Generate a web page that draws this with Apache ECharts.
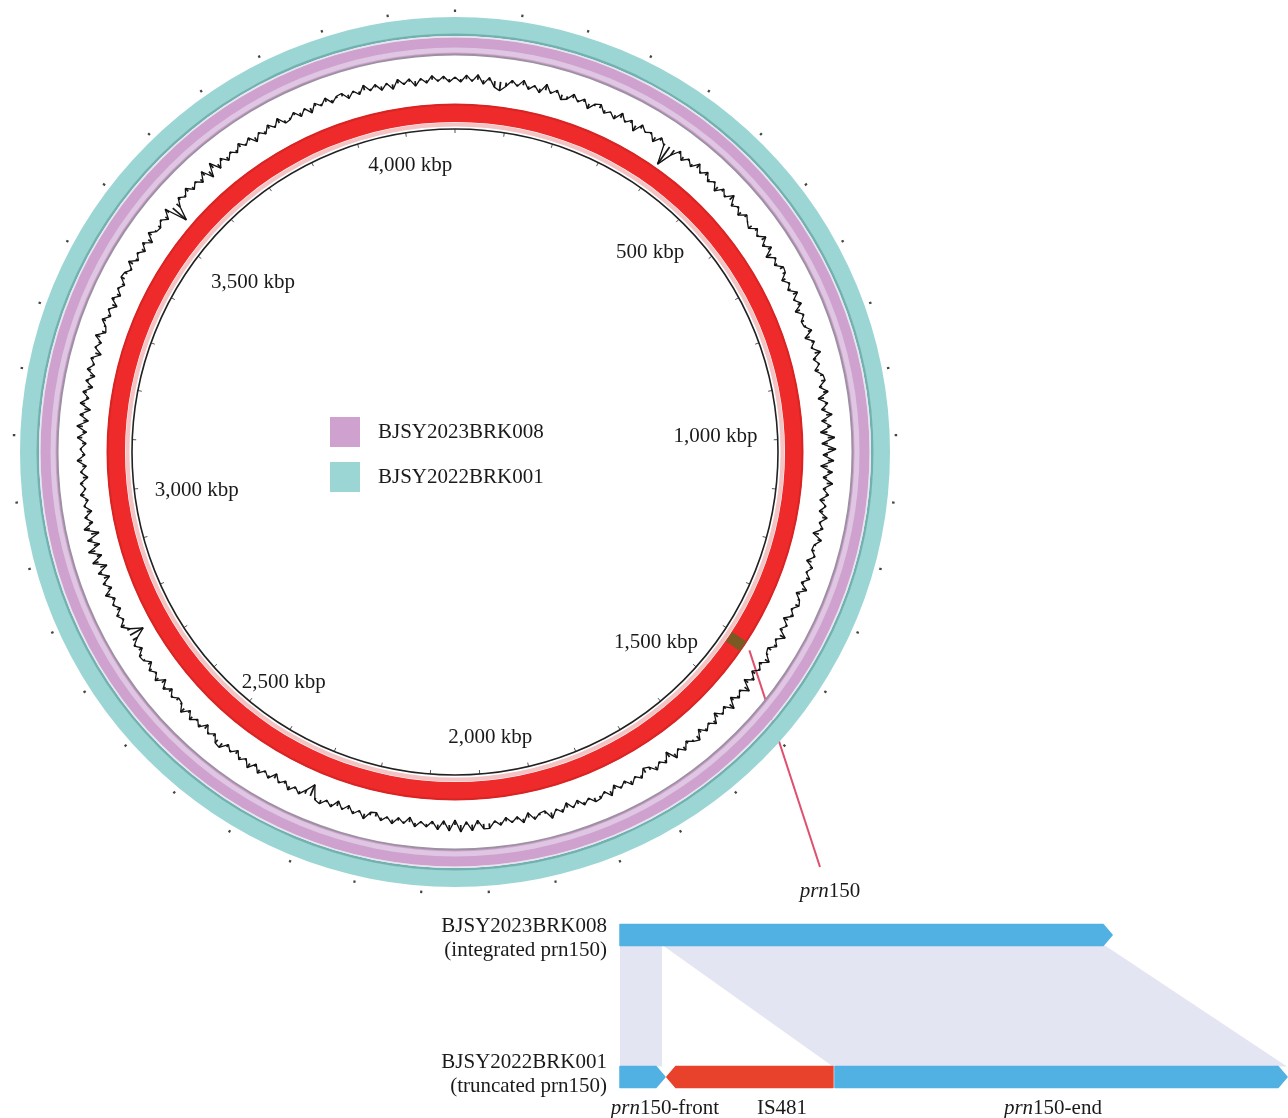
<!DOCTYPE html>
<html><head><meta charset="utf-8">
<script src="https://cdn.jsdelivr.net/npm/echarts@6/dist/echarts.min.js"></script>
<style>html,body{margin:0;padding:0;background:#fff}#c{width:1288px;height:1118px}</style>
</head><body><div id="c"></div>
<script>
// ---------------- data ----------------
const genomeLength = 4100; // kbp
const scaleLabels = [500, 1000, 1500, 2000, 2500, 3000, 3500, 4000];
const strainNames = ['BJSY2023BRK008', 'BJSY2022BRK001'];
const strainColors = ['#cfa1cf', '#9bd6d5'];
const prn150Pos = 1412; // kbp
const prn150Half = 11;
const gcStep = 10; // kbp between samples
// deviation of the GC plot from its baseline (px), one value per 10 kbp
const gcDeviation = [
  2,-3,4,-2,5,-4,3,-6,-9,-4,
  3,-2,5,-3,2,-4,6,-2,3,-5,
  -3,4,-2,3,-5,2,4,-3,1,-4,
  5,-2,3,-6,4,-1,2,-5,3,-2,
  -21,-6,3,-4,2,-3,5,-2,4,-3,
  2,-5,3,-2,6,-3,2,-4,3,-1,
  -4,3,-2,5,-3,4,-6,2,-3,4,
  3,-4,2,-3,5,-2,4,-5,2,-3,
  -2,4,-5,3,-2,6,-3,2,-4,3,
  4,-3,5,-6,3,-4,6,-5,4,-7,
  7,-6,8,-5,6,-7,5,-4,6,-3,
  3,-5,2,-4,5,-2,3,-6,4,-2,
  -3,2,-5,3,-2,4,-3,5,-4,2,
  4,-2,3,-5,2,-3,6,-2,3,-4,
  -2,5,-3,2,-4,3,-5,6,-2,3,
  -4,6,-3,2,-5,4,-2,3,-4,5,
  2,-3,4,-2,5,-6,3,-2,4,-3,
  -5,3,-2,4,-3,2,-4,5,-2,3,
  4,-2,3,-4,2,-5,3,-2,6,-3,
  -2,3,-5,4,-3,2,-4,3,-2,5,
  5,-4,6,-3,7,-5,6,-4,5,-3,
  3,-2,4,-5,2,-3,4,-2,3,-4,
  -3,5,-2,3,-4,2,-5,3,-2,4,
  2,-12,-4,3,-2,4,-3,2,-5,3,
  -2,4,-3,5,-2,3,-4,2,-3,5,
  4,-3,2,-5,3,-2,4,-3,5,-2,
  -3,2,-4,3,-5,4,-2,3,-4,2,
  3,-4,2,-5,-15,-3,4,-2,3,-4,
  2,-3,5,-4,3,-6,4,-7,6,-5,
  7,-6,5,-8,6,-4,3,-5,2,-3,
  4,-2,3,-5,2,-4,5,-3,2,-4,
  5,-4,6,-5,4,-6,5,-3,4,-5,
  3,-5,4,-2,3,-6,2,-3,5,-4,
  -2,4,-3,2,-5,3,-4,2,-3,4,
  3,-2,5,-3,2,-4,3,-5,4,-2,
  -3,2,-4,5,-18,-5,3,-2,4,-3,
  2,-4,5,-7,6,-5,3,-4,2,-3,
  4,-2,3,-5,2,-3,4,-2,5,-3,
  -2,3,-4,2,-5,3,-2,4,-3,2,
  3,-4,2,-3,5,-2,3,-4,2,-5,
  4,-2,3,-5,2,-3,4,-2,3,-3
];
// lower panel (bp)
const trackNames = [['BJSY2022BRK001', '(truncated prn150)'], ['BJSY2023BRK008', '(integrated prn150)']];
const geneNames = ['prn150', 'prn150-front', 'IS481', 'prn150-end'];
const geneStart = [0, 0, 297, 1363];
const geneEnd = [3120, 285, 1350, 4229];
const geneTrack = [1, 0, 0, 0];
const geneStrand = [1, 1, -1, 1];
const geneLabelAt = [null, 285, 1027, 2745];
const linkTop = [[0, 266], [272, 3075]];
const linkBottom = [[0, 266], [1350, 4229]];
const diagramMax = 4229;

// ---------------- layout / style ----------------
const chart = echarts.init(document.getElementById('c'));
const CX = 455, CY = 452;
const serif = 'Liberation Serif';
const FS = 21;
const geneColor = ['#50b1e2', '#50b1e2', '#e8422c', '#50b1e2'];
// label placement (radius px, angular nudge kbp) per scale label
const labelLayout = [[279, 5], [261, -13], [277, 20], [288, -30], [287, -33], [261, -21], [264, 31], [290, -1]];
const GC_BASE = 373;

function ring(r0, r1, color, name) {
  return {
    type: 'pie', center: [CX, CY], radius: [r0, r1], silent: true, startAngle: 90,
    label: {show: false}, labelLine: {show: false}, emphasis: {disabled: true},
    itemStyle: {borderWidth: 0},
    data: [{value: 1, name: name || ('_' + r0), itemStyle: {color: color}}]
  };
}

const gcData = gcDeviation.map((v, i) => [GC_BASE + v, i * gcStep]);
gcData.push([GC_BASE + gcDeviation[0], genomeLength]);

const labelData = scaleLabels.map((k, i) => ({
  value: [labelLayout[i][0], k + labelLayout[i][1]],
  name: k.toLocaleString('en-US') + ' kbp'
}));

const geneData = geneNames.map((n, i) => ({
  value: [geneStart[i], geneEnd[i], geneTrack[i], geneStrand[i]],
  itemStyle: {color: geneColor[i]}
}));
const linkData = linkTop.map((t, i) => [t[0], t[1], linkBottom[i][0], linkBottom[i][1]]);
const barH = 21, headL = 9;

const series = [
  ring(418, 435, strainColors[1], strainNames[1]),
  ring(416, 418.5, '#72b1b0'),
  ring(414.5, 416, '#e6e6ee'),
  ring(398, 414.5, strainColors[0], strainNames[0]),
  ring(399.5, 404.5, '#dfc6e2'),
  ring(396.5, 398.5, '#9d90a2'),
  ring(330, 348, '#ee2a2a'),
  ring(346.5, 348.5, '#d92424'),
  ring(325.5, 329.5, '#f4c4c4'),
  {
    type: 'custom', coordinateSystem: 'polar', polarIndex: 1, data: gcData, silent: true,
    renderItem(params, api) {
      const a = api.value(1), r = api.value(0);
      const p1 = api.coord([GC_BASE, a]);
      const p2 = api.coord([r, a]);
      return {type: 'line', shape: {x1: p1[0], y1: p1[1], x2: p2[0], y2: p2[1]}, style: {stroke: '#1a1a1a', lineWidth: 1.8}};
    }
  },
  {
    type: 'line', coordinateSystem: 'polar', polarIndex: 1, data: gcData,
    symbol: 'none', smooth: false, silent: true,
    lineStyle: {color: '#111', width: 1.3}
  },
  {
    type: 'line', coordinateSystem: 'polar', polarIndex: 1,
    data: [[339, prn150Pos - prn150Half], [339, prn150Pos + prn150Half]],
    symbol: 'none', silent: true, lineStyle: {color: '#7a5a22', width: 17, cap: 'butt'}
  },
  {
    type: 'scatter', coordinateSystem: 'polar', polarIndex: 0, data: labelData,
    symbolSize: 1, itemStyle: {color: '#fff', opacity: 1}, silent: true,
    label: {show: true, position: 'inside', formatter: '{b}', fontFamily: serif, fontSize: FS, color: '#1a1a1a', opacity: 1}
  },
  {
    type: 'custom', coordinateSystem: 'cartesian2d', data: linkData, silent: true,
    renderItem(params, api) {
      const yT = api.coord([0, 1])[1] + barH / 2;
      const yB = api.coord([0, 0])[1] - barH / 2;
      const x = v => api.coord([v, 0])[0];
      return {type: 'polygon', shape: {points: [[x(api.value(0)), yT], [x(api.value(1)), yT], [x(api.value(3)), yB], [x(api.value(2)), yB]]},
        style: {fill: '#e4e5f2'}};
    }
  },
  {
    type: 'custom', coordinateSystem: 'cartesian2d', data: geneData, silent: true,
    renderItem(params, api) {
      const s = api.coord([api.value(0), api.value(2)]);
      const e = api.coord([api.value(1), api.value(2)]);
      const y = s[1], h = barH / 2;
      const col = api.visual('color');
      let pts;
      if (api.value(3) > 0) pts = [[s[0], y - h], [e[0] - headL, y - h], [e[0], y], [e[0] - headL, y + h], [s[0], y + h]];
      else pts = [[s[0], y], [s[0] + headL, y - h], [e[0], y - h], [e[0], y + h], [s[0] + headL, y + h]];
      return {type: 'polygon', shape: {points: pts}, style: {fill: col, stroke: col, lineWidth: 1.5, lineJoin: 'round'}};
    }
  }
];

const option = {
  backgroundColor: '#fff',
  animation: false,
  legend: {
    data: strainNames, orient: 'vertical', left: 330, top: 417, padding: 0,
    itemWidth: 30, itemHeight: 30, itemGap: 15, icon: 'rect', selectedMode: false,
    textStyle: {fontFamily: serif, fontSize: FS, color: '#1a1a1a', padding: [0, 0, 0, 13]}
  },
  polar: [{center: [CX, CY], radius: 323}, {center: [CX, CY], radius: 440}],
  angleAxis: [
    {polarIndex: 0, type: 'value', min: 0, max: genomeLength, interval: 100, startAngle: 90, clockwise: true,
      axisLine: {lineStyle: {color: '#222', width: 1.6}},
      axisTick: {inside: true, length: 4, lineStyle: {color: '#555', width: 1}},
      axisLabel: {show: false}, splitLine: {show: false}},
    {polarIndex: 1, type: 'value', min: 0, max: genomeLength, interval: 100, startAngle: 90, clockwise: true,
      axisLine: {show: false},
      axisTick: {show: true, length: 2.5, lineStyle: {color: '#444', width: 2.2}},
      axisLabel: {show: false}, splitLine: {show: false}}
  ],
  radiusAxis: [
    {polarIndex: 0, type: 'value', min: 0, max: 323, axisLine: {show: false}, axisTick: {show: false}, axisLabel: {show: false}, splitLine: {show: false}},
    {polarIndex: 1, type: 'value', min: 0, max: 440, axisLine: {show: false}, axisTick: {show: false}, axisLabel: {show: false}, splitLine: {show: false}}
  ],
  grid: {left: 620, top: 935, width: 667, height: 142},
  xAxis: {type: 'value', min: 0, max: diagramMax, show: false},
  yAxis: {type: 'value', min: 0, max: 1, show: false},
  series: series
};
chart.setOption(option);

// annotations placed through the coordinate systems
const graphics = [];
const richI = {i: {fontStyle: 'italic', fontFamily: serif, fontSize: FS, fill: '#1a1a1a'}, n: {fontFamily: serif, fontSize: FS, fill: '#1a1a1a'}};
const gcIdx = 10;
const p0 = chart.convertToPixel({seriesIndex: gcIdx}, [355, prn150Pos]);
graphics.push({type: 'line', silent: true, shape: {x1: p0[0], y1: p0[1], x2: 820, y2: 867}, style: {stroke: '#e0506c', lineWidth: 2}});
graphics.push({type: 'text', silent: true, x: 830, y: 891, style: {text: '{i|prn}{n|150}', rich: richI, align: 'center', verticalAlign: 'middle', fontFamily: serif, fontSize: FS}});
trackNames.forEach((t, k) => {
  const py = chart.convertToPixel({gridIndex: 0}, [0, k])[1];
  graphics.push({type: 'text', silent: true, x: 607, y: py + (k ? 3 : -3), style: {text: t.join('\n'), align: 'right', verticalAlign: 'middle', lineHeight: 24, fontFamily: serif, fontSize: FS, fill: '#1a1a1a'}});
});
geneNames.forEach((n, i) => {
  if (geneLabelAt[i] == null) return;
  const p = chart.convertToPixel({gridIndex: 0}, [geneLabelAt[i], geneTrack[i]]);
  const txt = n.indexOf('prn') === 0 ? '{i|prn}{n|' + n.slice(3) + '}' : '{n|' + n + '}';
  graphics.push({type: 'text', silent: true, x: p[0], y: p[1] + 31, style: {text: txt, rich: richI, align: 'center', verticalAlign: 'middle', fontFamily: serif, fontSize: FS}});
});
chart.setOption({graphic: graphics});
</script>
</body></html>
